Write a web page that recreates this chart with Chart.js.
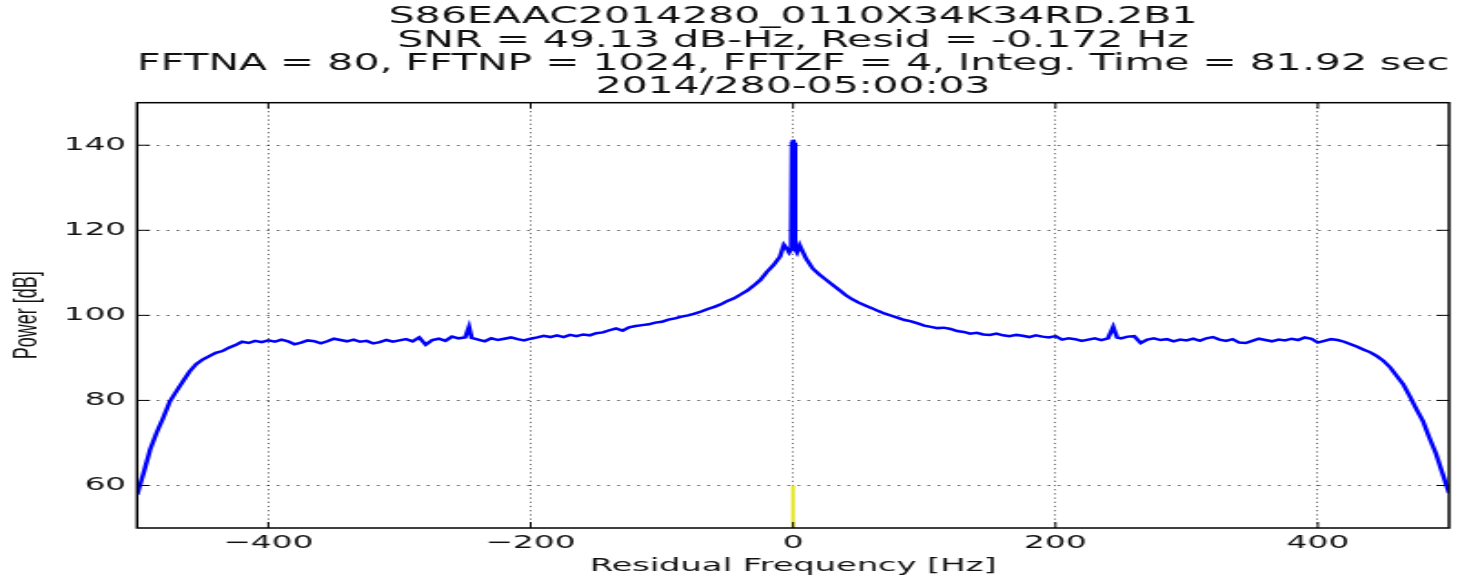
<!DOCTYPE html>
<html>
<head>
<meta charset="utf-8">
<script src="https://cdn.jsdelivr.net/npm/chart.js@4.4.1/dist/chart.umd.min.js"></script>
<style>
  html, body { margin: 0; padding: 0; background: #fff; overflow: hidden; }
  #wrap { width: 1480px; height: 579px; overflow: hidden; }
  /* the reference picture is stretched sideways, so the canvas is too */
  #spectrum { transform: scaleX(1.8204); transform-origin: 0 0; }
</style>
</head>
<body>
<div id="wrap"><canvas id="spectrum" width="813" height="579"></canvas></div>
<script>
// residual frequency [Hz] and power [dB]
const freqHz = [
  -500, -495, -490, -485, -480, -475, -470, -465, -460, -455,
  -450, -445, -440, -435, -430, -425, -420, -415, -410, -405,
  -400, -395, -390, -385, -380, -375, -370, -365, -360, -355,
  -350, -345, -340, -335, -330, -325, -320, -315, -310, -305,
  -300, -295, -290, -285, -280, -275, -270, -265, -260, -255,
  -250, -247, -245, -240, -235, -230, -225, -220, -215, -210,
  -205, -200, -195, -190, -185, -180, -175, -170, -165, -160,
  -155, -150, -145, -140, -135, -130, -125, -120, -115, -110,
  -105, -100, -95, -90, -85, -80, -75, -70, -65, -60,
  -55, -50, -45, -40, -35, -30, -25, -20, -15, -10,
  -7, -5, -3, -1.5, -0.8, 0, 0.8, 1.5, 3, 5,
  7, 10, 15, 20, 25, 30, 35, 40, 45, 50,
  55, 60, 65, 70, 75, 80, 85, 90, 95, 100,
  105, 110, 115, 120, 125, 130, 135, 140, 145, 150,
  155, 160, 165, 170, 175, 180, 185, 190, 195, 200,
  205, 210, 215, 220, 225, 230, 235, 240, 244, 247,
  250, 255, 260, 265, 270, 275, 280, 285, 290, 295,
  300, 305, 310, 315, 320, 325, 330, 335, 340, 345,
  350, 355, 360, 365, 370, 375, 380, 385, 390, 395,
  400, 405, 410, 415, 420, 425, 430, 435, 440, 445,
  450, 455, 460, 465, 470, 475, 480, 485, 490, 495,
  500
];
const powerDb = [
  57.8, 63.0, 68.5, 72.5, 76.0, 79.8, 82.2, 84.5, 86.8, 88.5,
  89.6, 90.4, 91.2, 91.6, 92.4, 93.0, 93.8, 93.5, 94.0, 93.7,
  94.1, 93.8, 94.3, 93.9, 93.2, 93.6, 94.1, 93.9, 93.4, 93.9,
  94.5, 94.2, 93.9, 94.3, 93.8, 94.0, 93.4, 93.7, 94.2, 93.8,
  94.1, 94.4, 93.9, 94.8, 93.1, 94.2, 94.5, 94.0, 95.0, 94.6,
  94.8, 97.3, 94.7, 94.3, 93.9, 94.6, 94.2, 94.5, 94.8, 94.4,
  94.1, 94.5, 94.8, 95.2, 94.9, 95.3, 94.9, 95.4, 95.1, 95.5,
  95.3, 95.8, 96.0, 96.5, 96.9, 96.4, 97.2, 97.5, 97.7, 97.9,
  98.3, 98.5, 99.0, 99.3, 99.7, 100.0, 100.4, 100.9, 101.5, 102.0,
  102.6, 103.4, 104.0, 104.9, 105.8, 107.0, 108.3, 110.2, 111.8, 113.8,
  116.6, 115.8, 114.8, 115.5, 140.5, 141.3, 140.5, 115.6, 114.8, 116.5,
  115.2, 113.3, 111.0, 109.6, 108.4, 107.2, 106.0, 104.8, 103.8, 103.0,
  102.3, 101.7, 101.0, 100.4, 99.9, 99.4, 98.9, 98.6, 98.1, 97.6,
  97.3, 97.0, 97.1, 96.8, 96.3, 96.1, 95.7, 95.9, 95.5, 95.4,
  95.7, 95.3, 95.1, 95.4, 95.2, 94.9, 95.3, 95.0, 94.8, 95.1,
  94.3, 94.6, 94.4, 94.0, 94.3, 94.6, 94.2, 94.6, 97.3, 94.8,
  94.6, 95.0, 95.1, 93.5, 94.3, 94.6, 94.2, 94.4, 93.9, 94.3,
  94.1, 94.5, 94.0, 94.6, 94.9, 94.3, 94.0, 94.4, 93.6, 93.5,
  94.0, 94.5, 94.2, 93.9, 94.3, 94.1, 94.5, 94.2, 94.8, 94.5,
  93.6, 94.0, 94.4, 94.2, 93.8, 93.2, 92.6, 91.9, 91.3, 90.4,
  89.3, 87.8, 85.8, 83.8, 81.0, 78.0, 75.2, 71.2, 67.5, 62.8,
  58.2
];
// short yellow marker at the carrier
const markerHz = [0, 0];
const markerDb = [50, 60];

const xTicks = [-400, -200, 0, 200, 400];
const yTicks = [60, 80, 100, 120, 140];

const titleLines = [
  'S86EAAC2014280_0110X34K34RD.2B1',
  'SNR = 49.13 dB-Hz, Resid = -0.172 Hz',
  'FFTNA = 80, FFTNP = 1024, FFTZF = 4, Integ. Time = 81.92 sec',
  '2014/280-05:00:03',
];

const toPoints = (xs, ys) => xs.map((x, i) => ({ x: x, y: ys[i] }));
const minus = (v) => (v < 0 ? '\u2212' + Math.abs(v) : String(v));

// black frame round the plot and inward tick marks like matplotlib
const framePlugin = {
  id: 'frame',
  afterDraw(chart) {
    const { ctx, chartArea: a, scales } = chart;
    ctx.save();
    ctx.strokeStyle = '#000';
    ctx.lineWidth = 1;
    xTicks.forEach((v) => {
      const px = scales.x.getPixelForValue(v);
      ctx.beginPath();
      ctx.moveTo(px, a.bottom); ctx.lineTo(px, a.bottom - 6);
      ctx.moveTo(px, a.top); ctx.lineTo(px, a.top + 6);
      ctx.stroke();
    });
    yTicks.forEach((v) => {
      const py = scales.y.getPixelForValue(v);
      ctx.beginPath();
      ctx.moveTo(a.left, py); ctx.lineTo(a.left + 7, py);
      ctx.moveTo(a.right, py); ctx.lineTo(a.right - 7, py);
      ctx.stroke();
    });
    ctx.lineWidth = 1.5;
    ctx.strokeRect(a.left, a.top, a.right - a.left, a.bottom - a.top);
    ctx.restore();
  },
};

const ctx = document.getElementById('spectrum').getContext('2d');

new Chart(ctx, {
  type: 'line',
  data: {
    datasets: [
      {
        data: toPoints(freqHz, powerDb),
        borderColor: '#0000ff',
        borderWidth: 2.5,
        pointRadius: 0,
        tension: 0,
      },
      {
        data: toPoints(markerHz, markerDb),
        borderColor: '#e3e31c',
        borderWidth: 2,
        pointRadius: 0,
      },
    ],
  },
  options: {
    responsive: false,
    animation: false,
    layout: { padding: { left: 0, right: 17, top: 0, bottom: 0 } },
    plugins: {
      legend: { display: false },
      tooltip: { enabled: false },
      title: {
        display: true,
        fullSize: false,
        text: titleLines,
        color: '#111',
        font: { family: 'DejaVu Sans', size: 22.5, weight: 'normal', lineHeight: 1.03 },
        padding: { top: 6, bottom: 4 },
      },
    },
    scales: {
      x: {
        type: 'linear',
        min: -500,
        max: 500,
        afterBuildTicks: (scale) => {
          scale.ticks = xTicks.map((v) => ({ value: v }));
        },
        afterFit: (scale) => {
          scale.height = 51;
        },
        ticks: {
          color: '#111',
          padding: 5,
          maxRotation: 0,
          font: { family: 'DejaVu Sans', size: 18 },
          callback: (v) => minus(v),
        },
        grid: { color: 'rgba(0,0,0,0.6)', lineWidth: 1, drawTicks: false },
        border: { display: false, dash: [1.2, 3] },
        title: {
          display: true,
          text: 'Residual Frequency [Hz]',
          color: '#111',
          font: { family: 'DejaVu Sans', size: 18.5, lineHeight: 1.2 },
          padding: { top: 0, bottom: 1.5 },
        },
      },
      y: {
        min: 50,
        max: 150,
        afterBuildTicks: (scale) => {
          scale.ticks = yTicks.map((v) => ({ value: v }));
        },
        afterFit: (scale) => {
          scale.width = 75.3;
        },
        ticks: {
          color: '#111',
          padding: 6,
          font: { family: 'DejaVu Sans', size: 18 },
        },
        grid: { color: 'rgba(0,0,0,0.6)', lineWidth: 1, drawTicks: false },
        border: { display: false, dash: [1.5, 4] },
        title: {
          display: true,
          text: 'Power [dB]',
          color: '#111',
          font: { family: 'Liberation Sans', size: 18, lineHeight: 1.2 },
          padding: { top: 4.6, bottom: 0 },
        },
      },
    },
  },
  plugins: [framePlugin],
});
</script>
</body>
</html>
